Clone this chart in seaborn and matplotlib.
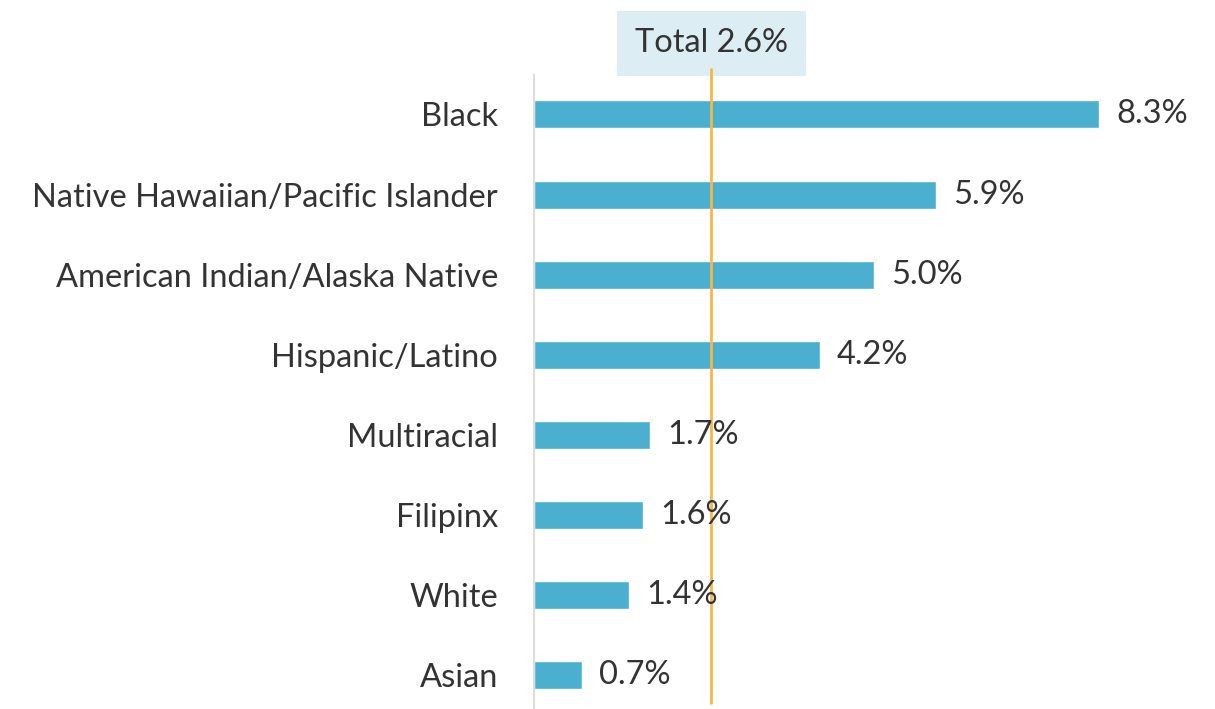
import matplotlib.pyplot as plt
import seaborn as sns
import pandas as pd

sns.set_theme(style="white")
plt.rcParams['font.family'] = ['Lato', 'DejaVu Sans']

# Data
groups = ["Black", "Native Hawaiian/Pacific Islander", "American Indian/Alaska Native",
          "Hispanic/Latino", "Multiracial", "Filipinx", "White", "Asian"]
rates = [8.3, 5.9, 5.0, 4.2, 1.7, 1.6, 1.4, 0.7]
total_rate = 2.6

df = pd.DataFrame({"group": groups, "rate": rates})

fig = plt.figure(figsize=(12.15, 7.09), dpi=100)
ax = fig.add_axes([0.4395, 0.0, 0.5605, 0.894])

sns.barplot(data=df, x="rate", y="group", color="#4BAFD0", saturation=1,
            width=0.35, ax=ax)

ax.set_xlim(0, 10)
ax.set_ylim(len(groups) - 1 + 0.42, -0.49)

text_color = "#333333"
for i, v in enumerate(rates):
    ax.text(v + 0.25, i, f"{v:.1f}%", va="center", ha="left",
            fontsize=23.5, color=text_color)

# total reference line
ax.axvline(total_rate, ymin=0.01, ymax=1.01, color="#F5B942", lw=2, clip_on=False)
ax.text(total_rate, 1.05, f"Total {total_rate}%", transform=ax.get_xaxis_transform(),
        ha="center", va="center", fontsize=23.5, color=text_color,
        bbox=dict(boxstyle="square,pad=0.55", fc="#DCEEF3", ec="none"),
        clip_on=False, zorder=1)

sns.despine(ax=ax, left=False, bottom=True)
ax.spines["left"].set_color("#DDDDDD")
ax.spines["left"].set_linewidth(1.5)
ax.set_xticks([])
ax.set_xlabel("")
ax.set_ylabel("")
ax.tick_params(axis="y", length=0, pad=26, labelsize=23.5, labelcolor=text_color)

fig.savefig("out.png", dpi=100)
